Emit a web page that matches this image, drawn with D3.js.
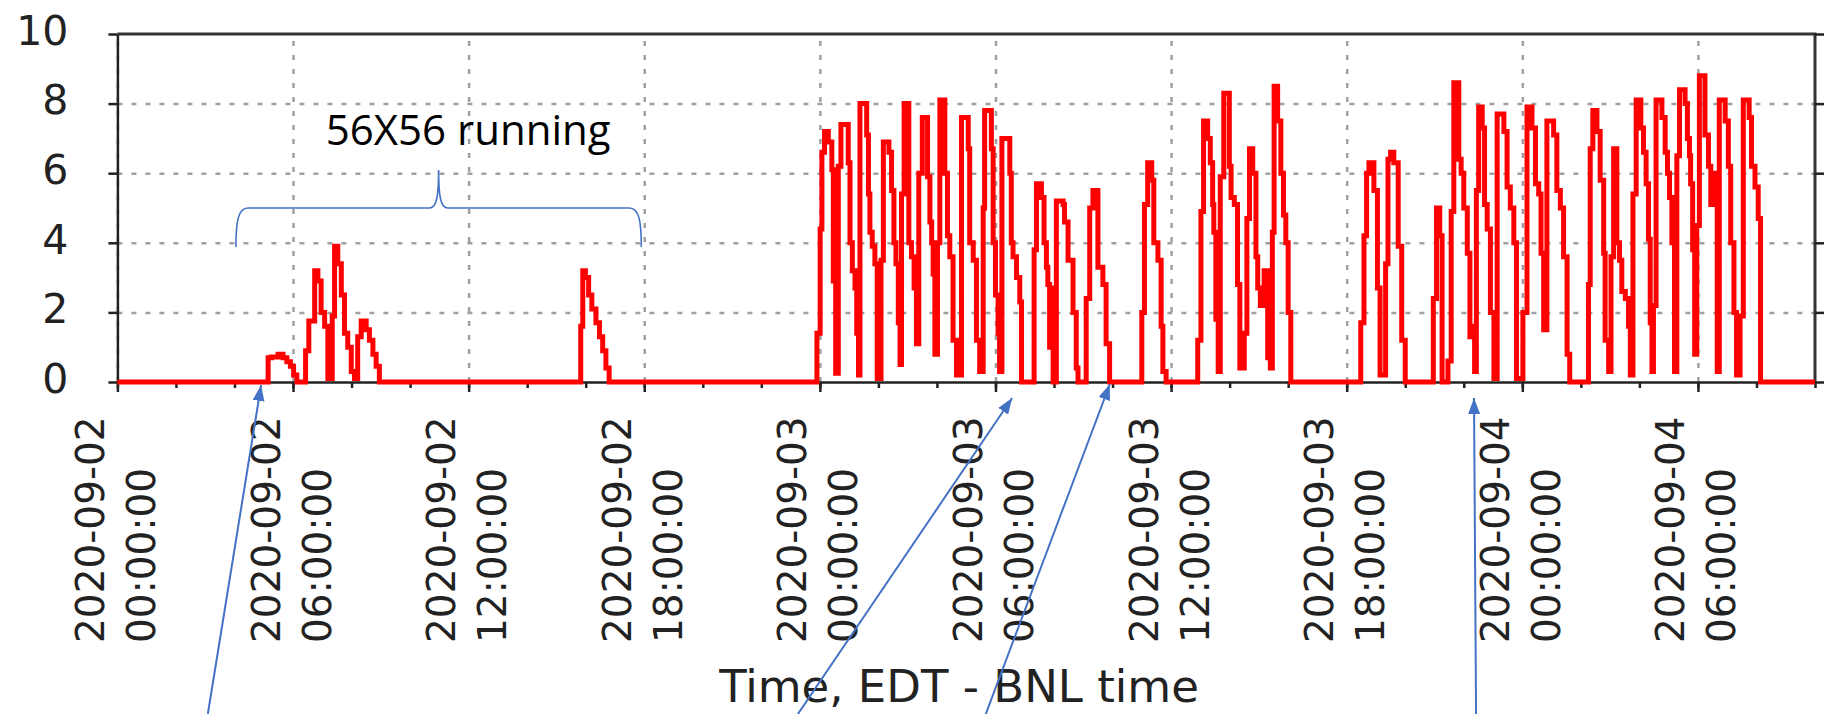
<!DOCTYPE html>
<html>
<head>
<meta charset="utf-8">
<title>56X56 running</title>
<script src="https://d3js.org/d3.v7.min.js"></script>
<style>
  body { margin: 0; background: #fff; }
  svg { display: block; }
</style>
</head>
<body>
<script>

// running jobs: [hours since 2020-09-02 00:00 EDT, value], held until the next point
var sep02Early = [
  [5.15,0.7],[5.26,0.72],[5.49,0.8],[5.66,0.7],[5.79,0.58],[5.91,0.45],[6.02,0.2],[6.13,0],
  [6.43,0.9],[6.54,1.75],[6.74,3.2],[6.85,2.9],[6.96,2.0],[7.08,1.6],[7.19,0.1],
  [7.34,1.9],[7.42,3.9],[7.53,3.4],[7.65,2.5],[7.76,1.4],[7.87,1.0],[7.99,0.3],[8.10,0.1],
  [8.21,1.3],[8.33,1.75],[8.50,1.5],[8.61,1.2],[8.73,0.8],[8.84,0.45],[8.95,0]
];
var sep02Afternoon = [
  [15.83,1.6],[15.90,3.2],[15.99,3.0],[16.10,2.5],[16.21,2.1],[16.35,1.7],[16.47,1.3],
  [16.58,0.9],[16.69,0.4],[16.80,0]
];
var sep03Night = [
  [23.90,1.4],[24.01,4.4],[24.07,6.6],[24.16,7.2],[24.29,6.9],[24.41,6.1],[24.46,2.9],[24.54,0.25],
  [24.63,6.2],[24.72,7.4],[24.97,6.3],[25.03,4.0],[25.11,3.2],[25.20,2.7],[25.26,1.4],[25.32,0.2],
  [25.37,8.0],[25.60,7.1],[25.66,5.4],[25.71,4.3],[25.79,3.9],[25.88,3.4],[25.96,0.1],
  [26.09,3.5],[26.17,6.9],[26.36,6.6],[26.45,5.5],[26.53,4.0],[26.60,3.4],[26.68,1.7],[26.74,0.5],
  [26.79,5.4],[26.88,8.0],[27.04,4.0],[27.13,3.6],[27.22,2.7],[27.30,1.1],
  [27.38,6.0],[27.50,7.6],[27.68,5.9],[27.76,4.6],[27.82,4.0],[27.87,3.1],[27.93,0.8],
  [28.02,4.0],[28.10,8.1],[28.27,6.0],[28.36,4.2],[28.44,3.6],[28.55,1.2],[28.67,0.2],
  [28.84,7.6],[29.07,6.7],[29.12,4.0],[29.24,3.5],[29.35,1.2],[29.46,0.3],
  [29.58,5.0],[29.63,7.8],[29.86,6.7],[29.92,4.0],[30.00,2.5],[30.09,1.4],[30.14,0.3],
  [30.22,7.0],[30.49,6.0],[30.54,4.0],[30.60,3.6],[30.72,3.0],[30.83,2.3],[30.89,0]
];
var sep03Morning = [
  [31.32,3.8],[31.40,5.7],[31.57,5.3],[31.66,4.0],[31.74,3.3],[31.79,2.8],[31.85,1.0],[31.91,2.7],[31.97,0],
  [32.08,5.2],[32.31,5.1],[32.36,4.6],[32.48,3.5],[32.65,2.0],[32.76,0.4],[32.82,0],
  [33.10,2.4],[33.22,5.0],[33.33,5.5],[33.50,3.3],[33.67,2.8],[33.78,1.1],[33.90,0],
  [35.00,2.0],[35.09,5.1],[35.20,6.3],[35.34,5.8],[35.41,4.0],[35.55,3.5],[35.66,1.6],[35.72,0.3],[35.83,0]
];
var sep03Midday = [
  [36.91,1.2],[37.02,4.9],[37.11,7.5],[37.25,7.0],[37.34,6.3],[37.42,5.1],[37.46,4.3],[37.53,1.8],[37.61,0.3],
  [37.68,5.9],[37.80,8.3],[37.99,6.2],[38.05,5.3],[38.16,5.1],[38.27,2.8],[38.35,0.4],
  [38.50,1.4],[38.59,4.7],[38.68,6.7],[38.79,6.0],[38.90,3.6],[38.96,2.7],[39.05,2.2],[39.13,2.6],
  [39.18,3.2],[39.30,0.7],[39.39,0.4],
  [39.46,4.3],[39.52,8.5],[39.64,7.5],[39.75,6.0],[39.84,4.8],[39.92,4.0],[40.00,2.0],[40.09,0]
];
var sep03Evening = [
  [42.48,1.7],[42.59,4.2],[42.68,6.0],[42.76,6.3],[42.93,5.5],[43.05,2.7],[43.14,0.2],
  [43.33,3.4],[43.41,6.4],[43.50,6.6],[43.61,6.3],[43.76,3.9],[43.88,1.2],[44.00,0]
];
var sep04Night = [
  [44.96,2.4],[45.07,5.0],[45.18,4.2],[45.26,0],[45.46,0.6],
  [45.57,4.9],[45.66,8.6],[45.83,6.4],[45.91,6.0],[46.00,5.0],[46.12,3.7],[46.21,1.3],[46.29,1.6],[46.37,0.3],
  [46.43,5.5],[46.51,7.9],[46.63,7.3],[46.71,5.1],[46.80,4.4],[46.91,2.0],[47.03,0.1],
  [47.14,7.7],[47.37,7.2],[47.48,5.6],[47.59,5.0],[47.71,4.0],[47.80,0.1],
  [48.02,2.0],[48.16,7.9],[48.33,7.3],[48.45,5.7],[48.56,5.4],[48.64,3.7],[48.73,1.5],
  [48.84,7.5],[49.07,7.1],[49.18,5.5],[49.30,5.0],[49.41,3.6],[49.53,0.8],[49.62,0],
  [50.26,2.8],[50.32,6.7],[50.41,7.8],[50.55,7.2],[50.66,5.8],[50.78,3.7],[50.83,1.2],[50.95,0.3],
  [51.03,3.6],[51.12,6.7],[51.23,4.0],[51.32,3.5],[51.40,2.6],[51.52,2.4],[51.63,1.6],[51.69,0.2],
  [51.78,5.4],[51.89,8.1],[52.05,7.3],[52.14,6.6],[52.23,5.7],[52.31,4.1],[52.37,1.7],[52.43,0.3],
  [52.48,2.2],[52.57,8.1],[52.77,7.6],[52.88,6.6],[52.96,6.0],[53.03,5.3],[53.11,4.0],[53.20,0.3],
  [53.28,6.5],[53.37,8.4],[53.56,8.0],[53.64,7.0],[53.71,6.5],[53.75,5.7],[53.82,3.8],[53.89,0.8],
  [53.96,4.5],[54.05,8.8],[54.24,7.1],[54.36,6.2],[54.44,5.1],[54.58,6.0],[54.66,0.3],
  [54.73,8.1],[54.93,7.5],[55.04,6.2],[55.12,4.0],[55.23,2.0],[55.32,0.2],
  [55.44,1.9],[55.55,8.1],[55.75,7.6],[55.83,6.2],[55.95,5.6],[56.06,4.7],[56.14,0]
];

var yTicks = [0, 2, 4, 6, 8, 10];
var xTitle = "Time, EDT - BNL time";
var noteText = "56X56 running";
var braceHours = [4.05, 17.9];
// arrows: [tail hour, head hour, head drop below the axis in px]
var arrows = [[3.09, 4.91, 3], [23.25, 30.57, 16], [29.67, 33.91, 2], [46.42, 46.35, 16]];

var width = 1828, height = 714;
var plotL = 117.4, plotR = 1815, plotT = 34, plotB = 382;

var t0 = new Date(2020, 8, 2, 0, 0, 0);
function at(h) { return new Date(+t0 + h * 3600e3); }

var x = d3.scaleTime().domain([at(0), at(58)]).range([plotL, plotR]);
var y = d3.scaleLinear().domain([0, 10]).range([plotB, plotT]);

var svg = d3.select("body").append("svg")
	.attr("width", width)
	.attr("height", height);

// grid
var gy = svg.append("g").attr("transform", "translate(" + plotL + ",0)")
	.call(d3.axisLeft(y).tickValues([2, 4, 6, 8]).tickSize(-(plotR - plotL)).tickFormat(""));
var gx = svg.append("g").attr("transform", "translate(0," + plotB + ")")
	.call(d3.axisBottom(x).ticks(d3.timeHour.every(6)).tickSize(-(plotB - plotT)).tickFormat(""));
[gy, gx].forEach(function(g) {
	g.select(".domain").remove();
	g.selectAll(".tick line")
		.attr("stroke", "#a0a0a0")
		.attr("stroke-width", 2.5)
		.attr("stroke-dasharray", "5,9");
});

// frame
svg.append("path")
	.attr("d", "M" + plotL + "," + plotT + "H" + plotR + "V" + plotB)
	.attr("fill", "none")
	.attr("stroke", "#333")
	.attr("stroke-width", 3);

svg.append("g").attr("transform", "translate(" + plotR + ",0)")
	.call(d3.axisRight(y).tickValues(yTicks).tickSize(9).tickSizeOuter(0).tickFormat(""))
	.call(function(g) { g.select(".domain").remove(); })
	.selectAll("line").attr("stroke", "#222").attr("stroke-width", 2.5);

// y axis
var yAxis = svg.append("g").attr("transform", "translate(" + plotL + ",0)")
	.call(d3.axisLeft(y).tickValues(yTicks).tickSize(9).tickSizeOuter(0).tickPadding(40));
yAxis.select(".domain").attr("stroke", "#222").attr("stroke-width", 2.5);
yAxis.selectAll("line").attr("stroke", "#222").attr("stroke-width", 2.5);
yAxis.selectAll("text")
	.attr("font-family", "DejaVu Sans")
	.attr("font-size", 41)
	.attr("dy", "0.25em")
	.attr("fill", "#222");

// x axis, minor ticks every 2 hours
var xMinor = svg.append("g").attr("transform", "translate(0," + plotB + ")")
	.call(d3.axisBottom(x).ticks(d3.timeHour.every(2)).tickSize(6).tickSizeOuter(0).tickFormat(""));
xMinor.select(".domain").attr("stroke", "#222").attr("stroke-width", 2.5);
xMinor.selectAll("line").attr("stroke", "#222").attr("stroke-width", 2.5);

var fmtDay = d3.timeFormat("%Y-%m-%d"), fmtTime = d3.timeFormat("%H:%M:%S");
var xMajor = svg.append("g").attr("transform", "translate(0," + plotB + ")")
	.call(d3.axisBottom(x).ticks(d3.timeHour.every(6)).tickSize(10).tickSizeOuter(0));
xMajor.select(".domain").remove();
xMajor.selectAll("line").attr("stroke", "#222").attr("stroke-width", 2.5);
xMajor.selectAll(".tick text").remove();
xMajor.selectAll(".tick").each(function(d) {
	var t = d3.select(this).append("text")
		.attr("transform", "translate(0," + (643 - plotB) + ") rotate(-90)")
		.attr("text-anchor", "start")
		.attr("font-family", "DejaVu Sans")
		.attr("font-size", 39)
		.attr("fill", "#222");
	t.append("tspan").attr("x", 0).attr("y", -14).text(fmtDay(d));
	t.append("tspan").attr("x", 0).attr("y", 37).text(fmtTime(d));
});

svg.append("text")
	.attr("x", 959)
	.attr("y", 702)
	.attr("text-anchor", "middle")
	.attr("font-family", "DejaVu Sans")
	.attr("font-size", 45)
	.attr("fill", "#222")
	.text(xTitle);

// series
var series = [[0, 0]].concat(sep02Early, sep02Afternoon, sep03Night, sep03Morning,
	sep03Midday, sep03Evening, sep04Night, [[58, 0]]);

var line = d3.line()
	.curve(d3.curveStepAfter)
	.x(function(d) { return x(at(d[0])); })
	.y(function(d) { return y(d[1]); });

svg.append("path")
	.datum(series)
	.attr("d", line)
	.attr("fill", "none")
	.attr("stroke", "#ff0000")
	.attr("stroke-width", 5)
	.attr("stroke-linejoin", "miter");

// annotations
var blue = "#4472c4";
var bx0 = x(at(braceHours[0])), bx1 = x(at(braceHours[1])), bm = (bx0 + bx1) / 2;
svg.append("path")
	.attr("d", "M" + bx0 + ",247 C" + bx0 + ",222 " + (bx0 + 2) + ",208 " + (bx0 + 12) + ",208" +
		" L" + (bm - 9) + ",208 C" + (bm - 2) + ",208 " + bm + ",196 " + bm + ",170" +
		" C" + bm + ",196 " + (bm + 2) + ",208 " + (bm + 9) + ",208" +
		" L" + (bx1 - 12) + ",208 C" + (bx1 - 2) + ",208 " + bx1 + ",222 " + bx1 + ",247")
	.attr("fill", "none")
	.attr("stroke", blue)
	.attr("stroke-width", 1.6);

svg.append("text")
	.attr("x", x(at(7.12)))
	.attr("y", 145)
	.attr("font-family", "Open Sans")
	.attr("font-size", 42)
	.attr("fill", "#000")
	.text(noteText);

svg.append("defs").append("marker")
	.attr("id", "head")
	.attr("markerUnits", "userSpaceOnUse")
	.attr("viewBox", "0 0 16 12")
	.attr("refX", 16).attr("refY", 6)
	.attr("markerWidth", 16).attr("markerHeight", 12)
	.attr("orient", "auto")
	.append("path")
	.attr("d", "M0,0 L16,6 L0,12 Z")
	.attr("fill", blue);

svg.selectAll(".arrow")
	.data(arrows)
	.enter().append("line")
	.attr("class", "arrow")
	.attr("x1", function(d) { return x(at(d[0])); })
	.attr("y1", height)
	.attr("x2", function(d) { return x(at(d[1])); })
	.attr("y2", function(d) { return plotB + d[2]; })
	.attr("stroke", blue)
	.attr("stroke-width", 2)
	.attr("marker-end", "url(#head)");

</script>
</body>
</html>
